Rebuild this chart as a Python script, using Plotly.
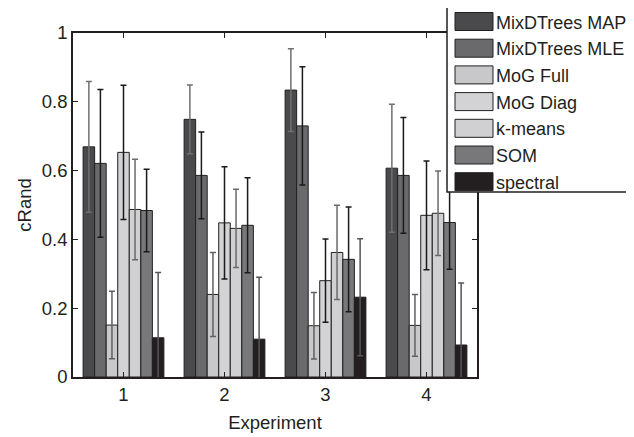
import plotly.graph_objects as go

experiments = [1, 2, 3, 4]
x_tick_labels = ["1", "2", "3", "4"]
y_tick_values = [0, 0.2, 0.4, 0.6, 0.8, 1]
y_tick_labels = ["0", "0.2", "0.4", "0.6", "0.8", "1"]

series_names = ["MixDTrees MAP", "MixDTrees MLE", "MoG Full", "MoG Diag", "k-means", "SOM", "spectral"]

map_vals = [0.669, 0.749, 0.834, 0.607]
map_err = [0.190, 0.100, 0.120, 0.186]
mle_vals = [0.621, 0.586, 0.730, 0.586]
mle_err = [0.215, 0.126, 0.172, 0.168]
full_vals = [0.151, 0.240, 0.149, 0.150]
full_err = [0.098, 0.122, 0.097, 0.090]
diag_vals = [0.653, 0.448, 0.280, 0.470]
diag_err = [0.195, 0.163, 0.121, 0.158]
kmeans_vals = [0.487, 0.432, 0.362, 0.476]
kmeans_err = [0.146, 0.114, 0.137, 0.123]
som_vals = [0.484, 0.441, 0.342, 0.449]
som_err = [0.120, 0.138, 0.152, 0.136]
spectral_vals = [0.114, 0.110, 0.232, 0.093]
spectral_err = [0.190, 0.180, 0.170, 0.180]

values = [map_vals, mle_vals, full_vals, diag_vals, kmeans_vals, som_vals, spectral_vals]
errors = [map_err, mle_err, full_err, diag_err, kmeans_err, som_err, spectral_err]

bar_colors = ["#4a4a4c", "#6a6a6c", "#c8c8ca", "#d3d3d5", "#d0d0d2", "#78787a", "#231f20"]
err_colors = ["#707070", "#1a1a1a", "#606060", "#1a1a1a", "#6a6a6a", "#1a1a1a", "#555555"]

INK = "#231f20"
FONT = "Liberation Sans, Arial, Helvetica, sans-serif"
FS = 18.5
LEG_FS = 18

fig = go.Figure()
for name, vals, errs, col, ecol in zip(series_names, values, errors, bar_colors, err_colors):
    fig.add_trace(go.Bar(
        x=experiments, y=vals, name=name,
        marker=dict(color=col, line=dict(color=INK, width=1)),
        error_y=dict(type="data", array=errs, visible=True, color=ecol, thickness=1.5, width=3),
        showlegend=False,
    ))

# page geometry (browser window 634x437, default 8px body margin)
W, H = 634, 437
PAGE_OFF = 8
L, R, T, B = 73, 477, 33, 377   # plot area in window pixels


def px_x(p):
    return (p - L) / (R - L)


def px_y(p):
    return (B - p) / (B - T)


shapes = [dict(type="rect", xref="paper", yref="paper",
               x0=px_x(447), x1=px_x(660), y0=px_y(192), y1=px_y(6),
               fillcolor="white", line=dict(color=INK, width=1.5), layer="above")]
annotations = []
for i, (name, col) in enumerate(zip(series_names, bar_colors)):
    cy = 21.5 + 26.7 * i
    shapes.append(dict(type="rect", xref="paper", yref="paper",
                       x0=px_x(455), x1=px_x(493), y0=px_y(cy + 9), y1=px_y(cy - 9),
                       fillcolor=col, line=dict(color=INK, width=1), layer="above"))
    annotations.append(dict(xref="paper", yref="paper", x=px_x(494), y=px_y(cy + 1),
                            text=name, showarrow=False, xanchor="left", yanchor="middle",
                            font=dict(family=FONT, size=LEG_FS, color=INK)))

fig.update_layout(
    width=W - PAGE_OFF, height=H - PAGE_OFF,
    margin=dict(l=L - PAGE_OFF, r=W - R, t=T - PAGE_OFF, b=H - B, autoexpand=False),
    paper_bgcolor="white", plot_bgcolor="white",
    barmode="group", bargap=0.2, bargroupgap=0,
    font=dict(family=FONT, size=FS, color=INK),
    shapes=shapes, annotations=annotations,
    xaxis=dict(range=[0.5, 4.5], tickvals=experiments, ticktext=x_tick_labels,
               showline=True, linecolor=INK, linewidth=1.5, mirror="ticks",
               ticks="inside", ticklen=5, tickcolor=INK, showgrid=False, zeroline=False,
               automargin=False,
               title=dict(text="Experiment", standoff=12, font=dict(size=FS))),
    yaxis=dict(range=[0, 1], tickvals=y_tick_values, ticktext=y_tick_labels,
               showline=True, linecolor=INK, linewidth=1.5, mirror="ticks",
               ticks="inside", ticklen=5, tickcolor=INK, showgrid=False, zeroline=False,
               automargin=False,
               title=dict(text="cRand", standoff=5, font=dict(size=FS))),
)

fig.write_html("out.html")
